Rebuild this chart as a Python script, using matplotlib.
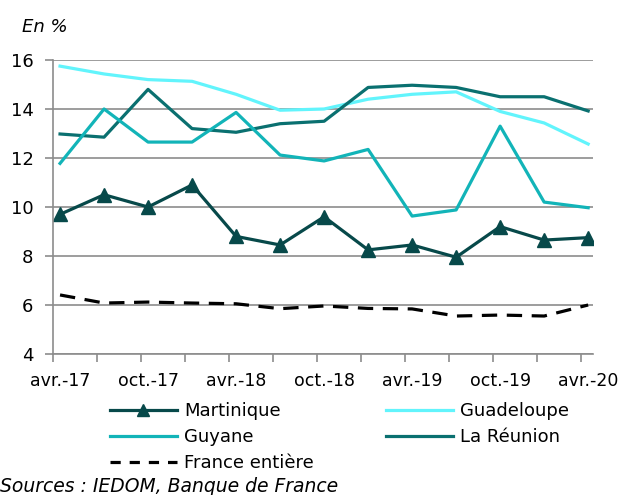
import matplotlib
matplotlib.use("Agg")
import matplotlib.pyplot as plt
from matplotlib.lines import Line2D

# quarterly points, avr.-17 .. avr.-20
labels = ["avr.-17", "", "oct.-17", "", "avr.-18", "", "oct.-18", "",
          "avr.-19", "", "oct.-19", "", "avr.-20"]
martinique = [9.7, 10.5, 10.0, 10.9, 8.8, 8.45, 9.6, 8.25, 8.45, 7.95, 9.2, 8.65, 8.75]
guadeloupe = [15.75, 15.43, 15.2, 15.13, 14.6, 13.95, 14.0, 14.4, 14.6, 14.7, 13.9, 13.43, 12.57]
guyane = [11.78, 14.0, 12.65, 12.65, 13.86, 12.12, 11.88, 12.35, 9.63, 9.88, 13.3, 10.2, 9.97]
reunion = [12.98, 12.85, 14.8, 13.2, 13.05, 13.4, 13.5, 14.88, 14.97, 14.88, 14.5, 14.5, 13.92]
france = [6.41, 6.08, 6.12, 6.08, 6.05, 5.85, 5.96, 5.86, 5.84, 5.55, 5.59, 5.55, 6.0]

C_MART = "#07494a"
C_GUAD = "#62f4fc"
C_GUY = "#12b4b8"
C_REU = "#0a7070"
GRID = "#8c8c8c"

plt.rcParams["font.family"] = "DejaVu Sans"

fig = plt.figure(figsize=(6.25, 4.95), dpi=100)
ax = fig.add_axes([53 / 625, 1 - 354 / 495, 540 / 625, 294 / 495])

x = list(range(len(labels)))
lw = 2.3
ax.plot(x, guadeloupe, color=C_GUAD, lw=lw)
ax.plot(x, reunion, color=C_REU, lw=lw)
ax.plot(x, guyane, color=C_GUY, lw=lw)
ax.plot(x, france, color="black", lw=lw, dashes=(4.8, 3.0))
ax.plot(x, martinique, color=C_MART, lw=lw, marker="^", markersize=9.5)

ax.set_ylim(4, 16)
ax.set_xlim(-0.16, 12.11)
ax.set_yticks(range(4, 17, 2))
ax.grid(axis="y", color=GRID, lw=1.2)
ax.set_axisbelow(True)

# tick marks sit just left of each point, labels under the points
ax.set_xticks([i - 0.16 for i in x], minor=True)
ax.set_xticks([i for i in x if labels[i]])
ax.set_xticklabels([l for l in labels if l])
ax.tick_params(axis="x", which="minor", length=6, width=1.2, color=GRID)
ax.tick_params(axis="x", which="major", length=0, pad=13, labelsize=12.5)
ax.tick_params(axis="y", length=6, width=1.2, color=GRID, pad=8, labelsize=13)

for s in ["top", "right"]:
    ax.spines[s].set_visible(False)
for s in ["left", "bottom"]:
    ax.spines[s].set_color(GRID)
    ax.spines[s].set_linewidth(1.2)

handles = [
    Line2D([], [], color=C_MART, lw=lw, marker="^", markersize=9),
    Line2D([], [], color=C_GUY, lw=lw),
    Line2D([], [], color="black", lw=lw, dashes=(3.2, 2.8)),
    Line2D([], [], color=C_GUAD, lw=lw),
    Line2D([], [], color=C_REU, lw=lw),
]
names = ["Martinique", "Guyane", "France entière", "Guadeloupe", "La Réunion"]
fig.legend(handles, names, ncol=2, loc="upper left",
           bbox_to_anchor=(110 / 625, 1 - 402 / 495), frameon=False,
           fontsize=13, handlelength=3.7, handletextpad=0.4,
           columnspacing=4.0, labelspacing=0.45, borderpad=0, borderaxespad=0)

fig.text(22 / 625, 1 - 27 / 495, "En %", style="italic", fontsize=13, va="center")
fig.text(0, 1 - 487 / 495, "Sources : IEDOM, Banque de France", style="italic",
         fontsize=13.5, va="center")

fig.savefig("out.png", dpi=100)
